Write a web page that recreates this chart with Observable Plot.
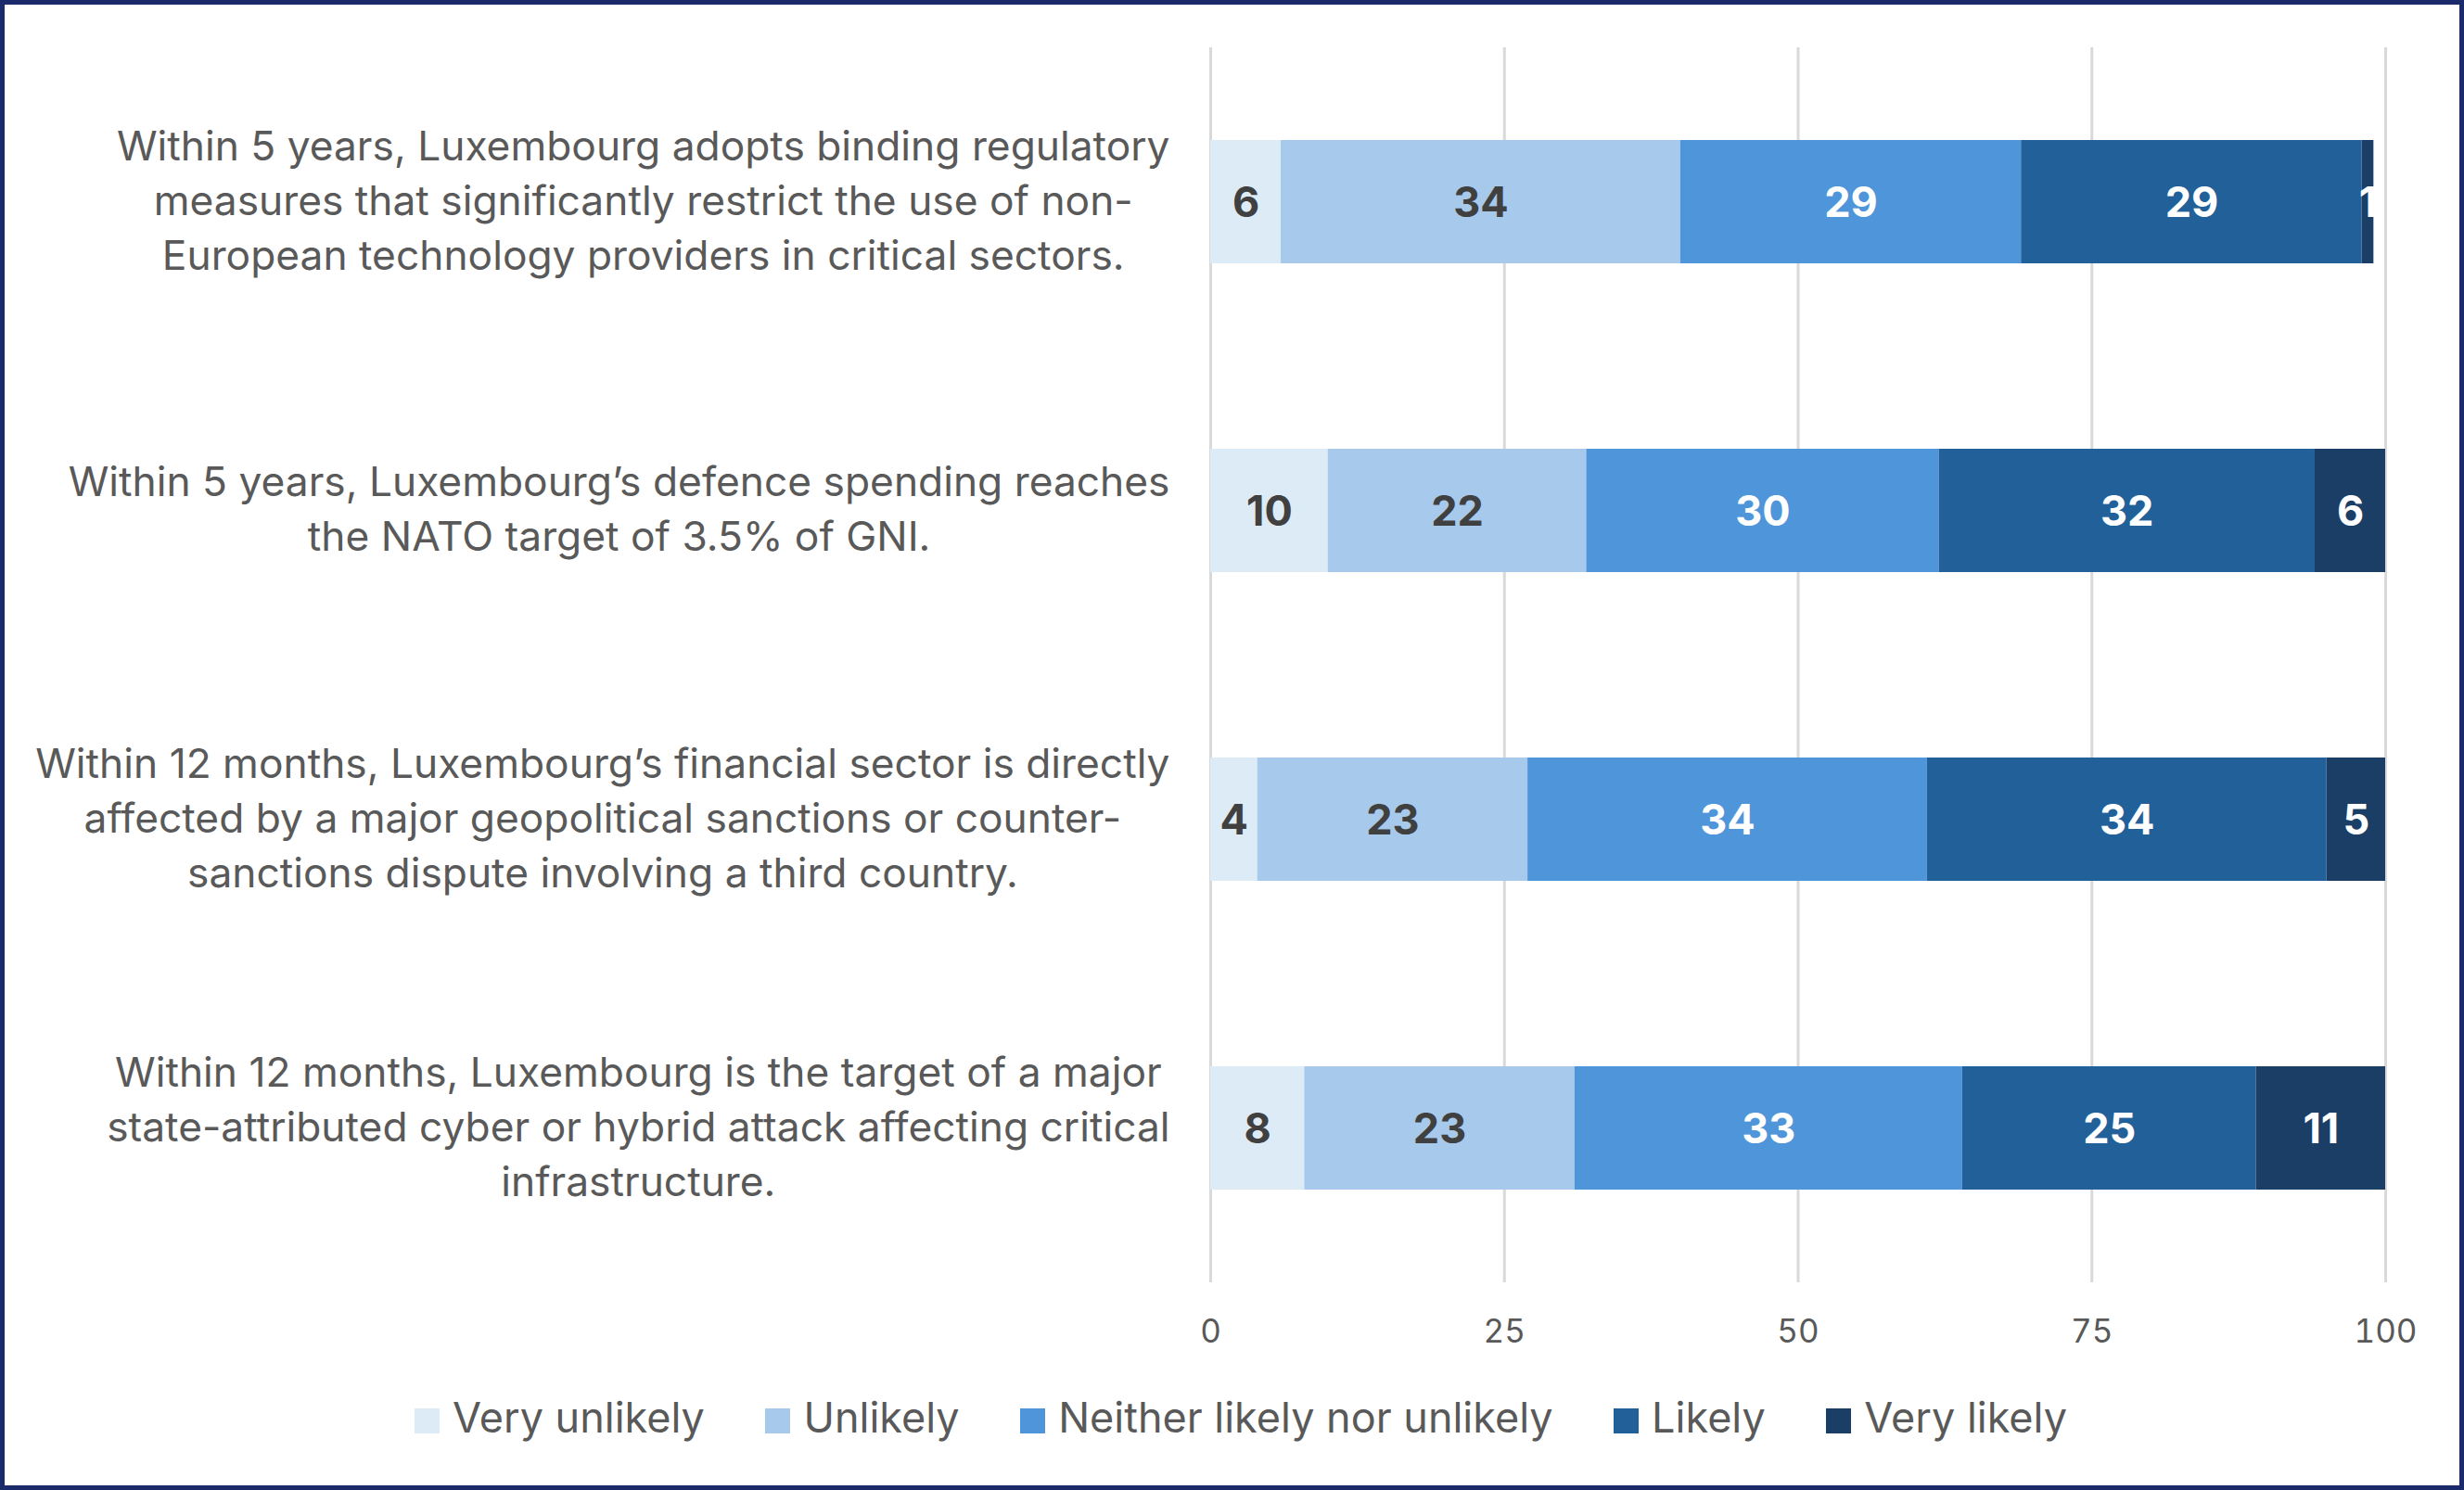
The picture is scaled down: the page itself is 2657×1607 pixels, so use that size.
<!DOCTYPE html>
<html>
<head>
<meta charset="utf-8">
<script src="https://cdn.jsdelivr.net/npm/d3@7"></script>
<script src="https://cdn.jsdelivr.net/npm/@observablehq/plot@0.6"></script>
<style>
html, body { margin: 0; padding: 0; background: #fff; overflow: hidden; }
#wrap { position: relative; width: 2657px; height: 1607px; background: #fff; }
#chart { position: absolute; left: 0; top: 0; }
#legend { position: absolute; left: 447px; top: 1506px; white-space: nowrap; color: #595959; }
#legend div, #legend span { font-family: Inter, sans-serif !important; font-size: 45px !important; line-height: 46px; color: #595959; }
#legend span { margin-right: 65.5px !important; }
#legend svg { margin-right: 14px !important; position: relative; top: 3px; }
#frame { position: absolute; left: 0; top: 0; width: 2657px; height: 1607px; border: 5px solid #1B2A6B; box-sizing: border-box; pointer-events: none; }
</style>
</head>
<body>
<div id="wrap"><div id="chart"></div><div id="legend"></div><div id="frame"></div></div>
<script>
// ---- data ----
const questions = [
  "Within 5 years, Luxembourg adopts binding regulatory\nmeasures that significantly restrict the use of non-\nEuropean technology providers in critical sectors.",
  "Within 5 years, Luxembourg\u2019s defence spending reaches\nthe NATO target of 3.5% of GNI.",
  "Within 12 months, Luxembourg\u2019s financial sector is directly\naffected by a major geopolitical sanctions or counter-\nsanctions dispute involving a third country.",
  "Within 12 months, Luxembourg is the target of a major\nstate-attributed cyber or hybrid attack affecting critical\ninfrastructure."
];
const levels = ["Very unlikely", "Unlikely", "Neither likely nor unlikely", "Likely", "Very likely"];
const veryUnlikely = [6, 10, 4, 8];
const unlikely = [34, 22, 23, 23];
const neither = [29, 30, 34, 33];
const likely = [29, 32, 34, 25];
const veryLikely = [1, 6, 5, 11];
const levelColors = ["#DDEBF7", "#A7CAEC", "#4F95D9", "#22609A", "#1A3E66"];
const xTicks = [0, 25, 50, 75, 100];

// ---- build long table ----
const series = [veryUnlikely, unlikely, neither, likely, veryLikely];
const rows = [];
questions.forEach((q, i) => {
  levels.forEach((lv, j) => {
    rows.push({question: q, level: lv, levelIndex: j, value: series[j][i]});
  });
});

// measure label widths for centered multi-line blocks, right edge aligned
const labelSize = 44.3;
const cnv = document.createElement("canvas");
const ctx = cnv.getContext("2d");
ctx.font = labelSize + "px Inter";
const maxWidths = questions.map(q => Math.max(...q.split("\n").map(l => ctx.measureText(l).width)));

const labelMarks = questions.map((q, i) =>
  Plot.text([q], {
    y: d => d,
    text: d => d,
    frameAnchor: "left",
    textAnchor: "middle",
    lineAnchor: "middle",
    lineHeight: 59 / labelSize,
    dx: -(44 + maxWidths[i] / 2),
    dy: -5,
    fontSize: labelSize,
    fill: "#595959"
  })
);

const chart = Plot.plot({
  width: 2657,
  height: 1480,
  marginLeft: 1305,
  marginRight: 85,
  marginTop: 51,
  marginBottom: 97,
  style: {fontFamily: "Inter, sans-serif", fontSize: "35px", background: "transparent"},
  x: {domain: [0, 100], axis: null},
  y: {domain: questions, type: "band", paddingInner: 0.6, paddingOuter: 0.3, axis: null},
  color: {domain: levels, range: levelColors, type: "ordinal"},
  marks: [
    Plot.gridX(xTicks, {stroke: "#D9D9D9", strokeOpacity: 1, strokeWidth: 3}),
    Plot.barX(rows, {x: "value", y: "question", fill: "level", order: levels, inset: 0}),
    Plot.text(rows.filter(d => d.levelIndex < 2), Plot.stackX({
      x: "value", y: "question", z: "level", order: levels,
      text: d => String(d.value), fill: "#404040", fontSize: 45, fontWeight: "bold", dy: 2
    })),
    Plot.text(rows, Plot.stackX({
      x: "value", y: "question", z: "level", order: levels,
      text: d => d.levelIndex >= 2 ? String(d.value) : "", fill: "#FFFFFF", fontSize: 45, fontWeight: "bold", dy: 2
    })),
    Plot.axisX({ticks: xTicks, tickSize: 0, tickPadding: 40, fontSize: 35, fill: "#595959", label: null, anchor: "bottom"}),
    ...labelMarks
  ]
});
document.getElementById("chart").append(chart);

const lg = chart.legend("color", {swatchSize: 27});
document.getElementById("legend").append(lg);
</script>
</body>
</html>
